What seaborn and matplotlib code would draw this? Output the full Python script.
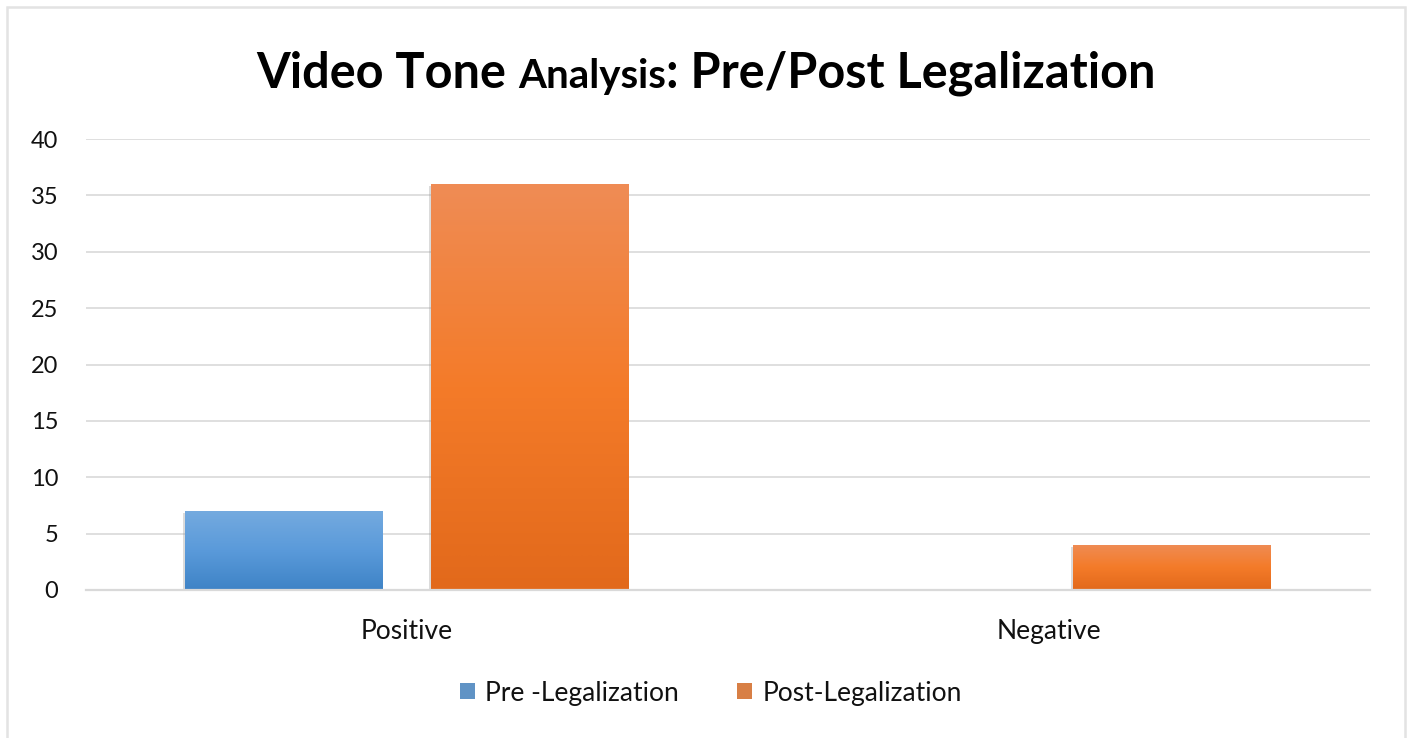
import matplotlib
matplotlib.use("Agg")
import matplotlib.pyplot as plt
import matplotlib.patheffects as pe
from matplotlib.colors import LinearSegmentedColormap
from matplotlib.patches import Rectangle
import seaborn as sns
import pandas as pd
import numpy as np

# data
tones = ["Positive", "Negative"]
periods = ["Pre -Legalization", "Post-Legalization"]
pre_counts = [7, 0]
post_counts = [36, 4]
y_ticks = [0, 5, 10, 15, 20, 25, 30, 35, 40]

df = pd.DataFrame({
    "tone": tones * 2,
    "period": [periods[0]] * 2 + [periods[1]] * 2,
    "count": pre_counts + post_counts,
})

BASE = {periods[0]: "#4F93D6", periods[1]: "#F07A2C"}
GRADS = [
    ["#3E83C6", "#5A9ADA", "#74AADF"],   # blue, bottom -> top
    ["#E2691B", "#F47B29", "#EF8C55"],   # orange, bottom -> top
]
GRID = "#D9D9D9"
FONT = "Lato"

sns.set_theme(style="white")
plt.rcParams["font.family"] = [FONT, "DejaVu Sans"]

fig = plt.figure(figsize=(14.09, 7.38), dpi=100)
ax = fig.add_axes([86 / 1409, 1 - 590 / 738, (1370 - 86) / 1409, (590 - 139) / 738])

sns.barplot(data=df, x="tone", y="count", hue="period", order=tones, hue_order=periods,
            palette=BASE, width=0.766, gap=0.195, linewidth=0, ax=ax, legend=True)

# Excel-like vertical gradient on every bar, clipped to the bar itself
for i, cont in enumerate(ax.containers):
    cmap = LinearSegmentedColormap.from_list(f"g{i}", GRADS[i])
    for bar in cont:
        h = bar.get_height()
        if h <= 0:
            bar.set_visible(False)
            continue
        bar.set_path_effects([pe.SimplePatchShadow(offset=(-1.5, -1.5), shadow_rgbFace="#999999", alpha=0.35),
                              pe.Normal()])
        x0, w = bar.get_x(), bar.get_width()
        grad = np.linspace(1, 0, 256).reshape(-1, 1)
        im = ax.imshow(grad, cmap=cmap, extent=[x0, x0 + w, 0, h], aspect="auto",
                       origin="upper", zorder=bar.get_zorder() + 0.1, interpolation="bicubic")
        im.set_clip_path(bar)

ax.set_xlim(-0.5, 1.5)
ax.set_ylim(0, 40)
ax.set_yticks(y_ticks)
ax.yaxis.grid(True, color=GRID, linewidth=1.2)
ax.set_axisbelow(True)
for s in ["left", "right", "top"]:
    ax.spines[s].set_visible(False)
ax.spines["bottom"].set_color(GRID)
ax.spines["bottom"].set_linewidth(1.6)
ax.tick_params(axis="y", length=0, pad=20, labelsize=17, labelcolor="#111111")
ax.tick_params(axis="x", length=0, pad=21, labelsize=19, labelcolor="#111111")
ax.set_xlabel("")
ax.set_ylabel("")

# legend at the bottom
handles, labels = ax.get_legend_handles_labels()
ax.get_legend().remove()
fig.legend(handles, labels, loc="center", bbox_to_anchor=(711 / 1409, 1 - 693 / 738),
           ncol=2, frameon=False, fontsize=19, handlelength=0.55, handleheight=0.55,
           handletextpad=0.4, columnspacing=2.2, labelcolor="#111111")

# title with a smaller middle word
pieces = [("Video Tone ", 35), ("Analysis", 29), (": Pre/Post Legalization", 35)]
renderer = fig.canvas.get_renderer()
texts, widths = [], []
for s, fs in pieces:
    t = fig.text(0, 1 - 88 / 738, s, fontsize=fs, fontweight="bold", color="black",
                 ha="left", va="baseline")
    texts.append(t)
    widths.append(t.get_window_extent(renderer).width)
x = 706 - sum(widths) / 2
for t, w in zip(texts, widths):
    t.set_x(x / 1409)
    x += w

# light frame around the chart area
fig.add_artist(Rectangle((7 / 1409, -0.05), 1398 / 1409, 1.05 - 7 / 738, transform=fig.transFigure,
                         fill=False, edgecolor="#E3E3E3", linewidth=1.8))

fig.savefig("out.png", dpi=100)
